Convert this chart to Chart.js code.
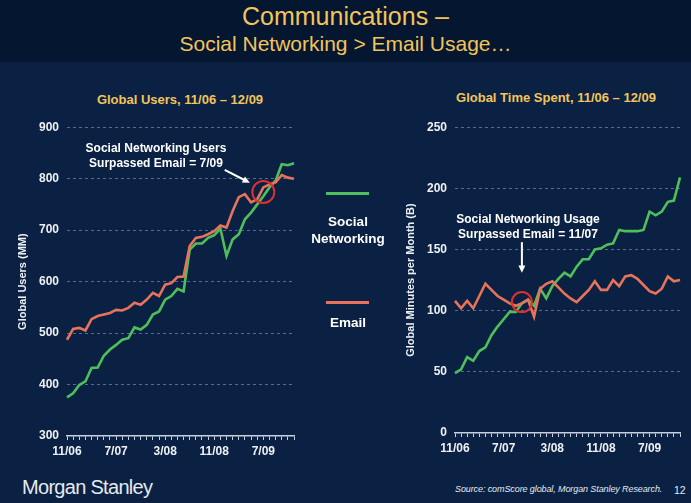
<!DOCTYPE html>
<html>
<head>
<meta charset="utf-8">
<script src="https://cdn.jsdelivr.net/npm/chart.js@4.4.1/dist/chart.umd.min.js"></script>
<style>
  html, body { margin: 0; padding: 0; }
  body {
    width: 691px; height: 503px; overflow: hidden; position: relative;
    background: #0a2143; font-family: "Liberation Sans", Arial, sans-serif;
  }
  .header { position: absolute; left: 0; top: 0; width: 691px; height: 62px; background: #041630; }
  .t1, .t2 { position: absolute; width: 691px; text-align: center; color: #f2c45a; }
  .t1 { top: 2px; font-size: 25px; }
  .t2 { top: 32px; font-size: 21px; }
  .sub { position: absolute; color: #f2c45a; font-weight: bold; font-size: 13px; text-align: center; }
  .box { position: absolute; }
  .legend-line { position: absolute; height: 3px; width: 43px; }
  .legend-text { position: absolute; color: #fff; font-weight: bold; font-size: 13.5px; text-align: center; width: 100px; line-height: 17px; }
  .brand { position: absolute; left: 22px; top: 476px; color: #e6e9ef; font-size: 20px; letter-spacing: -0.7px; }
  .source { position: absolute; left: 455px; top: 484px; color: #e6e9ef; font-size: 9px; font-style: italic; letter-spacing: -0.1px; }
  .page { position: absolute; left: 674px; top: 484px; color: #e6e9ef; font-size: 10.5px; }
</style>
</head>
<body>
<div class="header"></div>
<div class="t1">Communications –</div>
<div class="t2">Social Networking &gt; Email Usage…</div>

<div class="sub" style="left:42px; top:92px; width:276px;">Global Users, 11/06 – 12/09</div>
<div class="sub" style="left:421px; top:90px; width:270px;">Global Time Spent, 11/06 – 12/09</div>

<div class="box" style="left:0px; top:112px; width:305px; height:360px;"><canvas id="usersChart" width="305" height="360"></canvas></div>
<div class="box" style="left:401px; top:112px; width:286px; height:357px;"><canvas id="timeChart" width="286" height="357"></canvas></div>

<div class="legend-line" style="left:326px; top:192px; background:#4fbf5a;"></div>
<div class="legend-text" style="left:298px; top:213px;">Social<br>Networking</div>
<div class="legend-line" style="left:326px; top:301px; background:#e8735a;"></div>
<div class="legend-text" style="left:298px; top:314px;">Email</div>

<div class="brand">Morgan Stanley</div>
<div class="source">Source: comScore global, Morgan Stanley Research.</div>
<div class="page">12</div>

<script>
// months 11/06 .. 12/09
const months = [];
for (let y = 6; y <= 9; y++) {
    for (let m = 1; m <= 12; m++) {
        if (y === 6 && m < 11) continue;
        months.push(`${m}/0${y}`);
    }
}
const shownLabels = ["11/06", "7/07", "3/08", "11/08", "7/09"];

const usersSocial = [375, 383, 399, 406, 432, 433, 456, 468, 477, 487, 490, 511, 507, 516, 536, 542, 565, 572, 586, 581,
    662, 674, 674, 685, 690, 703, 650, 682, 692, 721, 734, 750, 766, 783, 796, 828, 826, 830];
const usersEmail = [487, 508, 510, 505, 527, 533, 536, 539, 545, 544, 549, 559, 555, 565, 578, 572, 594, 597, 609, 610,
    669, 685, 687, 692, 698, 709, 705, 737, 764, 770, 754, 760, 783, 789, 793, 807, 802, 800];

const timeSocial = [49, 52, 62, 59, 67, 70, 80, 87, 93, 99, 99, 106, 109, 104, 118, 110, 120, 126, 131, 128,
    136, 142, 142, 150, 151, 154, 155, 166, 165, 165, 165, 166, 181, 178, 181, 189, 190, 209];
const timeEmail = [108, 102, 108, 102, 112, 122, 117, 112, 109, 106, 104, 106, 109, 95, 118, 122, 124, 119, 114, 110,
    107, 112, 117, 124, 117, 117, 125, 120, 128, 129, 126, 121, 116, 114, 118, 128, 124, 125];

const usersNote = { lines: ["Social Networking Users", "Surpassed Email = 7/09"], at: [14.5, 858],
    arrowFrom: [25.7, 817], arrowTo: [29.8, 792], circle: [32, 774], radius: 11 };
const timeNote = { lines: ["Social Networking Usage", "Surpassed Email = 11/07"], at: [12, 174],
    arrowFrom: [11, 156], arrowTo: [11, 131], circle: [11, 107], radius: 10 };

const GREEN = "#4fbf5a";
const RED = "#e8735a";
const TICK_COLOR = "#eef0f4";
const GRID_COLOR = "rgba(150,170,205,0.55)";

const notePlugin = {
    id: "note",
    afterDatasetsDraw(chart, args, opts) {
        const n = opts.note;
        if (!n) return;
        const { ctx, scales: { x, y } } = chart;
        ctx.save();
        // circle
        ctx.strokeStyle = "#e0302e";
        ctx.lineWidth = 2;
        ctx.beginPath();
        ctx.arc(x.getPixelForValue(n.circle[0]), y.getPixelForValue(n.circle[1]), n.radius, 0, Math.PI * 2);
        ctx.stroke();
        // arrow
        const x1 = x.getPixelForValue(n.arrowFrom[0]), y1 = y.getPixelForValue(n.arrowFrom[1]);
        const x2 = x.getPixelForValue(n.arrowTo[0]), y2 = y.getPixelForValue(n.arrowTo[1]);
        const ang = Math.atan2(y2 - y1, x2 - x1);
        ctx.strokeStyle = "#fff";
        ctx.fillStyle = "#fff";
        ctx.lineWidth = 2;
        ctx.beginPath();
        ctx.moveTo(x1, y1);
        ctx.lineTo(x2 - 5 * Math.cos(ang), y2 - 5 * Math.sin(ang));
        ctx.stroke();
        ctx.beginPath();
        ctx.moveTo(x2, y2);
        ctx.lineTo(x2 - 8 * Math.cos(ang - 0.45), y2 - 8 * Math.sin(ang - 0.45));
        ctx.lineTo(x2 - 8 * Math.cos(ang + 0.45), y2 - 8 * Math.sin(ang + 0.45));
        ctx.closePath();
        ctx.fill();
        // text
        ctx.font = "bold 12px 'Liberation Sans', Arial, sans-serif";
        ctx.textAlign = "center";
        ctx.textBaseline = "middle";
        const tx = x.getPixelForValue(n.at[0]), ty = y.getPixelForValue(n.at[1]);
        n.lines.forEach((line, i) => ctx.fillText(line, tx, ty + i * 15));
        ctx.restore();
    }
};

function makeChart(id, social, email, yMin, yMax, yStep, yTitle, yWidth, rightPad, titlePad, note) {
    const canvas = document.getElementById(id);
    const ctx = canvas.getContext("2d");
    return new Chart(ctx, {
        type: "line",
        data: {
            labels: months,
            datasets: [
                { label: "Email", data: email, borderColor: RED, borderWidth: 2.6, pointRadius: 0, tension: 0 },
                { label: "Social Networking", data: social, borderColor: GREEN, borderWidth: 2.6, pointRadius: 0, tension: 0 }
            ]
        },
        options: {
            responsive: false,
            animation: false,
            layout: { padding: { top: 8, right: rightPad, left: 0, bottom: 0 } },
            plugins: {
                legend: { display: false },
                tooltip: { enabled: false },
                note: { note: note }
            },
            scales: {
                x: {
                    offset: false,
                    border: { display: true, color: "#c8d0de", width: 1.5 },
                    grid: { display: true, drawOnChartArea: false, drawTicks: true, tickLength: 4, color: "#c8d0de" },
                    ticks: {
                        autoSkip: false,
                        maxRotation: 0,
                        color: TICK_COLOR,
                        font: { family: "'Liberation Sans', Arial, sans-serif", weight: "bold", size: 12 },
                        padding: 4,
                        callback: (v, i) => shownLabels.includes(months[i]) ? months[i] : ""
                    },
                    afterFit: s => { s.height = 36; }
                },
                y: {
                    min: yMin,
                    max: yMax,
                    border: { display: false, dash: [3, 3] },
                    grid: { color: c => c.tick.value === yMin ? "rgba(0,0,0,0)" : GRID_COLOR, drawTicks: false, lineWidth: 1 },
                    ticks: {
                        stepSize: yStep,
                        color: TICK_COLOR,
                        padding: 8,
                        font: { family: "'Liberation Sans', Arial, sans-serif", weight: "bold", size: 12 }
                    },
                    title: {
                        display: true,
                        text: yTitle,
                        color: TICK_COLOR,
                        font: { family: "'Liberation Sans', Arial, sans-serif", weight: "bold", size: 11 },
                        padding: { top: titlePad, bottom: 0 }
                    },
                    afterFit: s => { s.width = yWidth; }
                }
            }
        },
        plugins: [notePlugin]
    });
}

makeChart("usersChart", usersSocial, usersEmail, 300, 900, 100, "Global Users (MM)", 67, 11, 16, usersNote);
makeChart("timeChart", timeSocial, timeEmail, 0, 250, 50, "Global Minutes per Month (B)", 54, 7, 3, timeNote);
</script>
</body>
</html>
